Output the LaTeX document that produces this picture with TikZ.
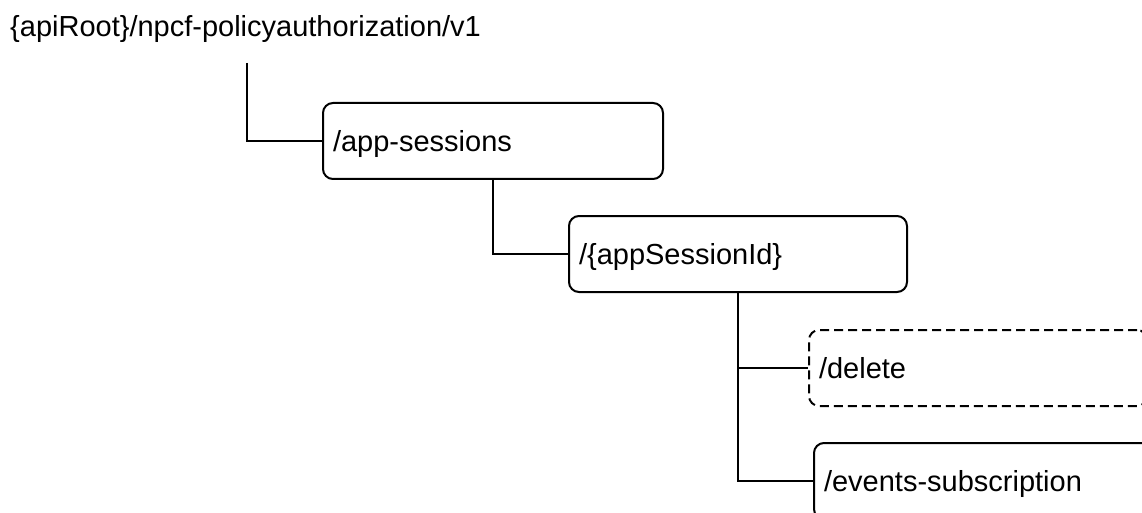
\documentclass[tikz,border=0pt]{standalone}
\usepackage{fontspec}
\setmainfont{Liberation Sans}
\begin{document}
\begin{tikzpicture}[x=1pt,y=-1pt,
  every node/.style={font=\fontsize{29}{34}\selectfont},
  res/.style={draw, line width=2pt, rounded corners=10pt, anchor=north west,
    text width=#1-20pt, inner xsep=10pt, inner ysep=0pt, align=left,
    minimum height=76pt, text height=21pt, text depth=0pt},
  dashres/.style={res=#1, dash pattern=on 9pt off 5pt},
  link/.style={draw, line width=2pt}]
\useasboundingbox (0,0) rectangle (1142,513);
\clip (0,0) rectangle (1142,513);
\node[anchor=base west, inner sep=0pt] (root) at (10,37) {\{apiRoot\}/npcf-policyauthorization/v1};
\coordinate (rootdown) at (247,63);
\node[res=340pt] (app) at (322,102) {/app-sessions};
\node[res=338pt] (sess) at (568,215) {/\{appSessionId\}};
\node[dashres=338pt] (del) at (808,329) {/delete};
\node[res=338pt] (ev) at (813,442) {/events-subscription};
\draw[link] (rootdown) |- (app.west);
\draw[link] (app.south) |- (sess.west);
\draw[link] (sess.south) |- (del.west);
\draw[link] (sess.south) |- (ev.west);
\end{tikzpicture}
\end{document}
